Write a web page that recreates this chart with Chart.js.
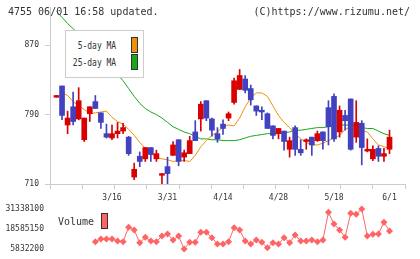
<!DOCTYPE html>
<html>
<head>
<meta charset="utf-8">
<script src="https://cdn.jsdelivr.net/npm/chart.js@4"></script>
<style>
  body { margin: 0; background: #fff; }
  #wrap { position: relative; width: 420px; height: 259px; overflow: hidden; font-family: "DejaVu Sans Mono", monospace; color: #333; }
  canvas { position: absolute; left: 0; }
  .txt { position: absolute; font-size: 10px; line-height: 12px; white-space: nowrap; }
  .lg { position: absolute; font-size: 10px; line-height: 12px; white-space: nowrap; text-align: right; transform: scaleX(0.8); transform-origin: right center; }
  .sw { position: absolute; width: 5px; height: 14px; border: 1px solid #333; }
</style>
</head>
<body>
<div id="wrap">
  <canvas id="price" width="420" height="204" style="top:0"></canvas>
  <canvas id="vol" width="420" height="59" style="top:200px"></canvas>
  <div class="txt" style="left:8px;top:6px">4755 06/01 16:58 updated.</div>
  <div class="txt" style="right:10px;top:6px">(C)https://www.rizumu.net/</div>
  <div style="position:absolute;left:65px;top:30px;width:77px;height:46px;border:1px solid #ccc;background:#fff">
    <div class="lg" style="right:27px;top:9px">5-day MA</div>
    <div class="sw" style="left:65px;top:6px;background:#f0900a"></div>
    <div class="lg" style="right:27px;top:26px">25-day MA</div>
    <div class="sw" style="left:65px;top:23px;background:#18a818"></div>
  </div>
  <div class="txt" style="left:58px;top:216px">Volume</div>
  <div class="sw" style="left:101px;top:213px;background:#ff6464"></div>
</div>
<script>
const dates = ['3/2','3/3','3/4','3/5','3/6','3/9','3/10','3/11','3/12','3/13',
  '3/16','3/17','3/18','3/19','3/23','3/24','3/25','3/26','3/27','3/30',
  '3/31','4/1','4/2','4/3','4/6','4/7','4/8','4/9','4/10','4/13',
  '4/14','4/15','4/16','4/17','4/20','4/21','4/22','4/23','4/24','4/27',
  '4/28','4/30','5/1','5/7','5/8','5/11','5/12','5/13','5/14','5/15',
  '5/18','5/19','5/20','5/21','5/22','5/25','5/26','5/27','5/28','5/29','6/1'];
const dateTicks = ['3/16','3/31','4/14','4/28','5/18','6/1'];
const priceTicks = [710, 790, 870];
const volTicks = [5832200, 18585150, 31338100];

const openP = [810,823,778,799,785,761,791,805,792,768,
  763,768,771,764,718,742,739,752,739,720,
  730,743,761,741,745,770,785,806,785,768,
  779,786,804,819,831,820,800,795,791,777,
  768,771,750,775,750,759,764,760,770,798,
  811,770,789,808,764,780,748,739,751,742,750];
const highP = [812,823,794,816,821,786,799,812,792,779,
  778,781,780,765,734,747,752,752,749,722,
  741,759,761,749,765,783,805,806,786,775,
  784,793,832,842,835,824,800,799,792,777,
  774,771,764,777,761,762,764,771,770,806,
  814,800,795,808,806,783,762,754,754,751,772];
const lowP = [810,784,768,778,784,759,782,797,774,763,
  761,763,768,743,715,730,736,736,736,709,
  710,743,731,736,745,760,771,783,765,758,
  767,783,802,819,815,801,789,784,774,762,
  762,749,741,743,743,750,743,759,750,755,
  759,764,772,749,758,732,747,737,736,736,745];
const closeP = [812,789,786,782,806,786,799,797,781,764,
  768,771,775,745,727,736,752,744,745,722,
  722,755,736,746,760,760,802,786,772,762,
  774,791,829,835,818,807,794,793,774,766,
  774,759,760,750,746,761,755,768,760,776,
  762,795,783,750,781,752,750,750,742,745,764];
const ma5 = [null,815,812,805,800,796,791,792,793,794,
  787,782,779,773,766,758,751,745,741,739,
  738,736,737,737,736,743,753,760,766,770,
  776,778,777,786,799,809,815,815,811,800,
  789,781,775,768,762,758,755,755,757,760,
  763,766,773,776,772,772,770,762,755,753,751];
const ma25 = [909,902,895,889,883,876,869,863,857,850,
  843,836,829,820,811,803,797,793,790,786,
  781,776,773,770,768,765,762,762,761,761,
  760,760,760,761,763,765,766,767,768,768,
  768,769,770,772,772,773,774,775,775,776,
  777,778,778,778,777,775,774,774,771,768,766];
const volume = [null,null,null,null,null,null,null,
  10487000,12208700,12208700,12208700,10933400,10487000,19669100,17947500,9849400,13292700,
  10933400,10487000,14121600,15396900,11571000,14121600,5832200,10104400,10104400,16480900,
  16480900,13037600,9020400,9020400,10487000,19414100,17947500,10933400,9020400,11571000,
  10104400,6661100,9849400,9020400,13037600,9849400,14759300,10933400,10933400,11571000,
  10487000,11571000,29234900,21773400,17947500,13292700,28597200,27959500,31338100,14121600,
  15205600,15396900,22857400,17310000];

const RED = '#d80000', BLUE = '#4242c0', GREY = '#cccccc';
const X_MIN = -1.17, X_MAX = 62.79;
const up = dates.map((d, i) => closeP[i] >= openP[i]);
const candleColor = up.map(u => u ? RED : BLUE);
const tickFont = { family: 'DejaVu Sans Mono', size: 8 };

const fixWidth = s => { s.width = 50; s.paddingTop = 0; s.paddingBottom = 0; };

new Chart(document.getElementById('price'), {
  type: 'bar',
  data: {
    datasets: [
      {
        type: 'line', data: ma5.map((v, i) => ({ x: i, y: v })), borderColor: '#f0900a',
        borderWidth: 1, pointRadius: 0, order: 3
      },
      {
        type: 'line', data: ma25.map((v, i) => ({ x: i, y: v })), borderColor: '#18a818',
        borderWidth: 1, pointRadius: 0, order: 4
      },
      {
        data: dates.map((d, i) => ({ x: i, y: [lowP[i], highP[i]] })),
        backgroundColor: candleColor, barThickness: 1, grouped: false, order: 2
      },
      {
        data: dates.map((d, i) => ({ x: i, y: [Math.min(openP[i], closeP[i]), Math.max(openP[i], closeP[i])] })),
        backgroundColor: candleColor, barThickness: 5, minBarLength: 1, grouped: false, order: 1
      }
    ]
  },
  options: {
    responsive: false,
    animation: false,
    layout: { padding: { top: 7, right: 15, left: 0, bottom: 0 } },
    plugins: { legend: { display: false }, tooltip: { enabled: false } },
    scales: {
      x: {
        type: 'linear', position: 'bottom', min: X_MIN, max: X_MAX, weight: 1, offset: false,
        afterBuildTicks: a => { a.ticks = dateTicks.map(l => ({ value: dates.indexOf(l) })); },
        afterFit: s => { s.height = 15; s.paddingLeft = 0; s.paddingRight = 0; },
        grid: { display: false, drawTicks: false, offset: false },
        border: { display: false },
        ticks: { autoSkip: false, maxRotation: 0, padding: 4, color: '#333', font: tickFont,
          callback: v => dates[v] }
      },
      xg: {
        type: 'linear', position: 'bottom', min: 0, max: 11, weight: 0, offset: false,
        afterBuildTicks: a => { a.ticks = Array.from({ length: 12 }, (_, k) => ({ value: k })); },
        afterFit: s => { s.height = 5; s.paddingLeft = 0; s.paddingRight = 0; },
        grid: { drawOnChartArea: false, tickLength: 5, color: GREY, offset: false },
        border: { display: true, color: GREY },
        ticks: { display: false }
      },
      y: {
        min: 710, max: 914,
        afterBuildTicks: a => { a.ticks = priceTicks.map(v => ({ value: v })); },
        afterFit: fixWidth,
        grid: { drawOnChartArea: false, tickLength: 5, color: GREY },
        border: { display: true, color: GREY },
        ticks: { padding: 6, color: '#333', font: tickFont, callback: v => String(v) }
      }
    }
  }
});

new Chart(document.getElementById('vol'), {
  type: 'line',
  data: {
    datasets: [{
      data: volume.map((v, i) => ({ x: i, y: v })).filter(p => p.y !== null),
      borderColor: '#ff6464', backgroundColor: '#ff6464', borderWidth: 1,
      pointStyle: 'rectRot', pointRadius: 3.5, pointBorderWidth: 0, clip: false
    }]
  },
  options: {
    responsive: false,
    animation: false,
    layout: { padding: { top: 9, right: 15, left: 0, bottom: 10 } },
    plugins: { legend: { display: false }, tooltip: { enabled: false } },
    scales: {
      x: { type: 'linear', min: X_MIN, max: X_MAX, display: false },
      y: {
        min: volTicks[0], max: volTicks[2],
        afterBuildTicks: a => { a.ticks = volTicks.map(v => ({ value: v })); },
        afterFit: fixWidth,
        grid: { display: false, drawTicks: false },
        border: { display: false },
        ticks: { padding: 6, color: '#333', font: tickFont, callback: v => String(v) }
      }
    }
  }
});
</script>
</body>
</html>
